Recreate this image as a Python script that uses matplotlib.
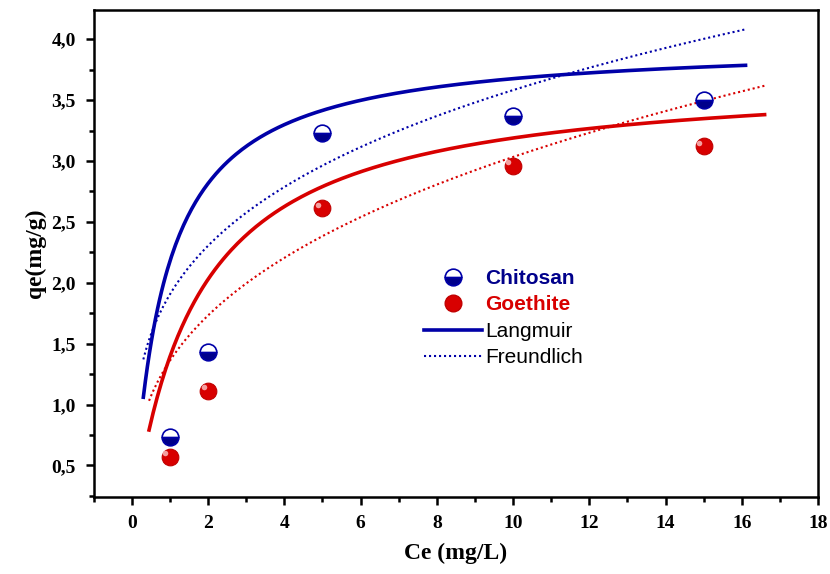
import numpy as np
import matplotlib
matplotlib.use("Agg")
import matplotlib.pyplot as plt
from matplotlib.lines import Line2D
from matplotlib.ticker import MultipleLocator, FuncFormatter

# Experimental data
ce = [1, 2, 5, 10, 15]
qe_chitosan = [0.73, 1.43, 3.23, 3.37, 3.50]
qe_goethite = [0.57, 1.11, 2.61, 2.96, 3.12]

# Fitted isotherm parameters
langmuir_chitosan = {"qm": 3.98, "KL": 1.21}
langmuir_goethite = {"qm": 3.72, "KL": 0.60}
freundlich_chitosan = {"KF": 1.906, "inv_n": 0.274}
freundlich_goethite = {"KF": 1.361, "inv_n": 0.348}
range_chitosan = (0.3, 16.1)
range_goethite = (0.45, 16.6)

blue = "#0000A8"
navy = "#00008B"
red = "#D80000"

plt.rcParams["font.family"] = ["Liberation Serif", "DejaVu Serif"]

fig = plt.figure(figsize=(8.3, 5.74), dpi=100)
ax = fig.add_axes([0.113, 0.134, 0.8725, 0.8486])

def langmuir(c, p):
    return p["qm"] * p["KL"] * c / (1 + p["KL"] * c)

def freundlich(c, p):
    return p["KF"] * c ** p["inv_n"]

cb = np.linspace(*range_chitosan, 300)
cr = np.linspace(*range_goethite, 300)
ax.plot(cb, langmuir(cb, langmuir_chitosan), color=blue, lw=2.6, zorder=2)
ax.plot(cb, freundlich(cb, freundlich_chitosan), color=blue, lw=1.5, ls=(0, (1, 1.4)), zorder=2)
ax.plot(cr, langmuir(cr, langmuir_goethite), color=red, lw=2.6, zorder=2)
ax.plot(cr, freundlich(cr, freundlich_goethite), color=red, lw=1.5, ls=(0, (1, 1.4)), zorder=2)

ax.plot(ce, qe_chitosan, ls="none", marker="o", ms=12, fillstyle="bottom",
        markerfacecolor=navy, markerfacecoloralt="white", markeredgecolor=blue,
        markeredgewidth=1.2, zorder=4)
ax.plot(ce, qe_goethite, ls="none", marker="o", ms=12, color=red,
        markeredgecolor="#C00000", markeredgewidth=0.8, zorder=4)
ax.plot(np.array(ce) - 0.12, np.array(qe_goethite) + 0.03, ls="none", marker="o",
        ms=4, color="#F4A0A0", markeredgewidth=0, zorder=5)

ax.set_xlim(-1, 18)
ax.set_ylim(0.24, 4.24)
ax.xaxis.set_major_locator(MultipleLocator(2))
ax.xaxis.set_minor_locator(MultipleLocator(1))
ax.yaxis.set_major_locator(MultipleLocator(0.5))
ax.yaxis.set_minor_locator(MultipleLocator(0.25))
ax.yaxis.set_major_formatter(FuncFormatter(lambda v, p: f"{v:.1f}".replace(".", ",")))
ax.tick_params(which="both", direction="out", top=False, right=False, width=1.8)
ax.tick_params(which="major", length=6, labelsize=14, pad=7)
ax.tick_params(which="minor", length=3.5)
for lab in ax.get_xticklabels() + ax.get_yticklabels():
    lab.set_fontweight("bold")
for s in ax.spines.values():
    s.set_linewidth(1.8)

ax.set_xlabel("Ce (mg/L)", fontsize=17, fontweight="bold", labelpad=8)
ax.set_ylabel("qe(mg/g)", fontsize=17, fontweight="bold", labelpad=4)

handles = [
    Line2D([], [], ls="none", marker="o", ms=12, fillstyle="bottom",
           markerfacecolor=navy, markerfacecoloralt="white", markeredgecolor=blue,
           markeredgewidth=1.2),
    Line2D([], [], ls="none", marker="o", ms=12, color=red, markeredgecolor="#C00000"),
    Line2D([], [], color=blue, lw=2.6),
    Line2D([], [], color=blue, lw=1.5, ls=(0, (1, 1.4))),
]
labels = ["Chitosan", "Goethite", "Langmuir", "Freundlich"]
leg = ax.legend(handles, labels, loc="upper left", bbox_to_anchor=(0.43, 0.507),
                frameon=False, handlelength=2.8, handletextpad=0.15,
                labelspacing=0.36, borderpad=0.4,
                prop={"family": "Liberation Sans", "size": 15})
texts = leg.get_texts()
texts[0].set_color(navy); texts[0].set_fontweight("bold")
texts[1].set_color(red); texts[1].set_fontweight("bold")

fig.savefig("out.png", dpi=100)
